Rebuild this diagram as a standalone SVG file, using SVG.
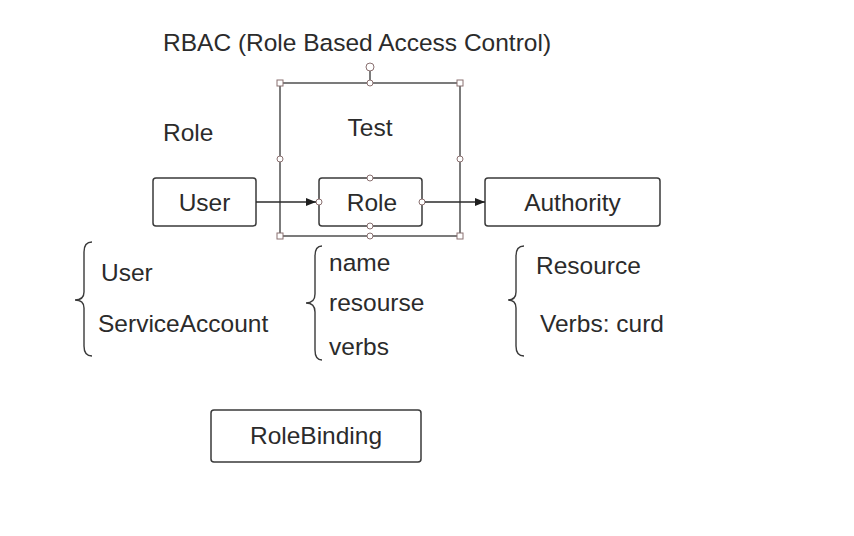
<svg xmlns="http://www.w3.org/2000/svg" width="854" height="536" viewBox="0 0 854 536">
<style>
text{font-family:"Liberation Sans",Arial,sans-serif;font-size:24.5px;fill:#2b2b2b}
.box{fill:#fff;stroke:#3a3a3a;stroke-width:1.5}
.sel{fill:none;stroke:#444;stroke-width:1.4}
.h{fill:#fff;stroke:#8a7070;stroke-width:1}
.brace{fill:none;stroke:#3a3a3a;stroke-width:1.4}
.c{stroke:#2b2b2b;stroke-width:1.4;fill:none}
</style>
<defs>
<marker id="arr" viewBox="0 0 10 10" refX="10" refY="5" markerWidth="10" markerHeight="10" markerUnits="userSpaceOnUse" orient="auto">
<path d="M0,1 L10,5 L0,9 z" fill="#1e1e1e"/>
</marker>
</defs>
<rect width="854" height="536" fill="#fff"/>
<text id="title" x="163" y="51">RBAC (Role Based Access Control)</text>
<text id="roleLabel" x="163" y="141">Role</text>

<g id="test">
<rect class="sel" x="280" y="83" width="180" height="153"/>
<line class="sel" x1="370" y1="83" x2="370" y2="71"/>
<circle class="h" cx="370" cy="67" r="4"/>
<rect class="h" x="277" y="80" width="6" height="6"/>
<rect class="h" x="457" y="80" width="6" height="6"/>
<rect class="h" x="277" y="233" width="6" height="6"/>
<rect class="h" x="457" y="233" width="6" height="6"/>
<circle class="h" cx="370" cy="83" r="3"/>
<circle class="h" cx="370" cy="236" r="3"/>
<circle class="h" cx="280" cy="159" r="3"/>
<circle class="h" cx="460" cy="159" r="3"/>
<text x="370" y="136" text-anchor="middle">Test</text>
</g>

<g id="user">
<rect class="box" x="153" y="178" width="103" height="48" rx="3"/>
<text x="204.5" y="211" text-anchor="middle">User</text>
</g>
<g id="role">
<rect class="box" x="319" y="178" width="103" height="48" rx="3"/>
<circle class="h" cx="370" cy="178" r="3"/>
<circle class="h" cx="370" cy="226" r="3"/>
<circle class="h" cx="319" cy="202" r="3"/>
<circle class="h" cx="422" cy="202" r="3"/>
<text x="372" y="211" text-anchor="middle">Role</text>
</g>
<g id="authority">
<rect class="box" x="485" y="178" width="175" height="48" rx="3"/>
<text x="572.5" y="211" text-anchor="middle">Authority</text>
</g>
<g id="rolebinding">
<rect class="box" x="211" y="410" width="210" height="52" rx="3"/>
<text x="316" y="444" text-anchor="middle">RoleBinding</text>
</g>

<g id="connectors">
<line class="c" x1="256" y1="202" x2="316" y2="202" marker-end="url(#arr)"/>
<line class="c" x1="425" y1="202" x2="485" y2="202" marker-end="url(#arr)"/>
</g>

<g id="subjects">
<path class="brace" d="M92,242 Q84,242 84,252 L84,292 Q84,300 75,300 Q84,300 84,308 L84,346 Q84,356 92,356"/>
<text x="101" y="281">User</text>
<text x="98" y="332">ServiceAccount</text>
</g>
<g id="roleFields">
<path class="brace" d="M322,246 Q315,246 315,256 L315,294 Q315,303 306,303 Q315,303 315,312 L315,350 Q315,360 322,360"/>
<text x="329" y="271">name</text>
<text x="329" y="311">resourse</text>
<text x="329" y="355">verbs</text>
</g>
<g id="authFields">
<path class="brace" d="M524,246 Q516,246 516,256 L516,292 Q516,300 508,300 Q516,300 516,308 L516,346 Q516,356 524,356"/>
<text x="536" y="274">Resource</text>
<text x="540" y="332">Verbs: curd</text>
</g>
</svg>
